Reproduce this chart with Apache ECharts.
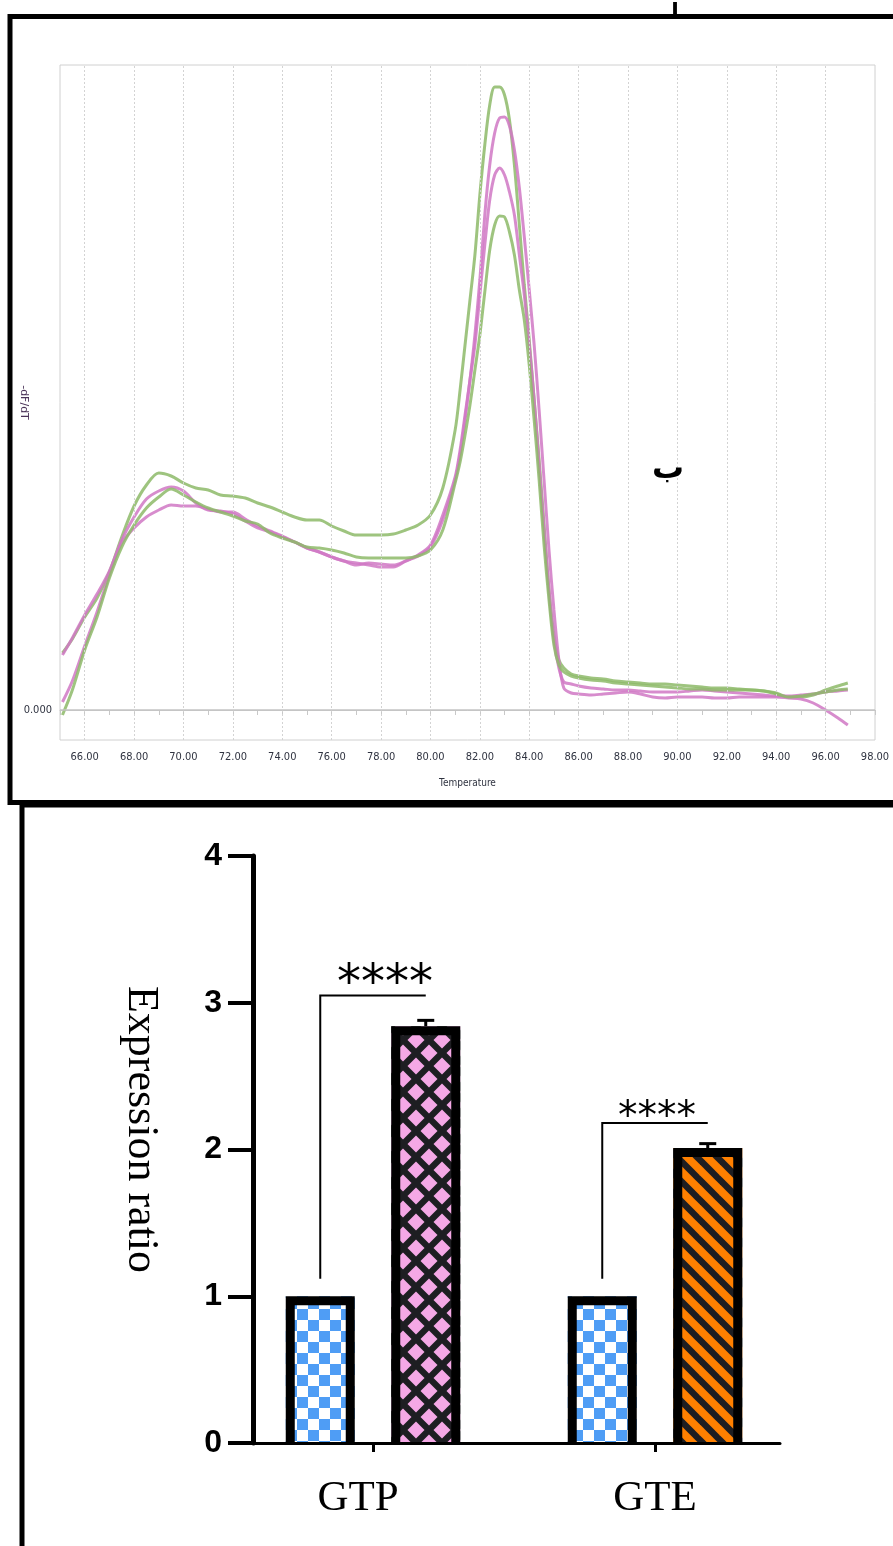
<!DOCTYPE html>
<html><head><meta charset="utf-8">
<script src="https://cdn.jsdelivr.net/npm/echarts@6/dist/echarts.min.js"></script>
<style>html,body{margin:0;padding:0;background:#fff}#c{width:893px;height:1546px}</style>
</head><body><div id="c"></div>
<script>
// ---------- melt curve data (top panel) ----------
const temps = [65.1,65.5,66,66.5,67,67.5,68,68.5,69,69.5,70,70.5,71,71.5,72,72.5,73,73.5,74,74.5,75,75.5,76,76.5,77,77.5,78,78.5,79,79.5,80,80.5,
81,81.2,81.4,81.6,81.8,82,82.2,82.4,82.6,82.8,83,83.2,83.4,83.6,83.8,84,84.2,84.4,84.6,84.8,85,85.2,85.4,
85.7,86,86.5,87,87.5,88,88.5,89,89.5,90,90.5,91,91.5,92,92.5,93,93.5,94,94.5,95,95.5,96,96.5,96.9];
const greenA = [0.57,0.71,0.93,1.12,1.38,1.73,2.04,2.25,2.37,2.34,2.27,2.22,2.20,2.15,2.14,2.12,2.07,2.03,1.98,1.93,1.90,1.90,1.84,1.79,1.75,1.75,1.75,1.76,1.80,1.85,1.95,2.22,
2.80,3.20,3.65,4.10,4.55,5.15,5.65,6.05,6.23,6.23,6.15,5.90,5.45,4.85,4.25,3.70,3.10,2.50,1.85,1.20,0.75,0.50,0.42,
0.36,0.34,0.32,0.31,0.29,0.28,0.27,0.26,0.26,0.25,0.24,0.23,0.22,0.22,0.21,0.20,0.19,0.17,0.13,0.13,0.15,0.20,0.24,0.27];
const pinkB = [0.55,0.72,0.95,1.16,1.39,1.70,1.93,2.11,2.19,2.23,2.19,2.07,2.00,1.99,1.96,1.89,1.82,1.78,1.73,1.68,1.62,1.58,1.53,1.49,1.47,1.45,1.43,1.43,1.49,1.55,1.65,1.95,
2.33,2.60,2.95,3.30,3.75,4.30,4.95,5.45,5.77,5.92,5.93,5.84,5.60,5.22,4.73,4.20,3.65,3.00,2.30,1.60,1.00,0.50,0.22,
0.17,0.16,0.15,0.16,0.17,0.18,0.16,0.13,0.12,0.13,0.13,0.13,0.12,0.12,0.13,0.13,0.13,0.13,0.12,0.11,0.07,0.00,-0.08,-0.15];
const pinkC = [0.08,0.29,0.64,0.98,1.35,1.67,1.82,1.93,2.00,2.05,2.04,2.04,2.01,1.98,1.98,1.91,1.84,1.79,1.74,1.68,1.62,1.58,1.53,1.49,1.45,1.47,1.46,1.45,1.49,1.54,1.63,1.90,
2.30,2.55,2.90,3.30,3.65,4.15,4.65,5.10,5.35,5.42,5.35,5.18,4.95,4.55,4.15,3.65,3.10,2.45,1.80,1.20,0.70,0.42,0.28,
0.26,0.24,0.22,0.21,0.20,0.20,0.19,0.18,0.18,0.18,0.19,0.20,0.19,0.18,0.17,0.16,0.15,0.14,0.14,0.15,0.16,0.18,0.19,0.20];
const greenD = [-0.05,0.20,0.60,0.93,1.32,1.63,1.85,2.02,2.13,2.21,2.15,2.08,2.02,1.98,1.94,1.89,1.86,1.77,1.72,1.68,1.63,1.62,1.60,1.57,1.53,1.52,1.52,1.52,1.52,1.54,1.60,1.80,
2.27,2.48,2.75,3.05,3.40,3.75,4.18,4.60,4.85,4.94,4.93,4.78,4.55,4.20,3.90,3.45,2.90,2.30,1.65,1.10,0.65,0.45,0.38,
0.34,0.32,0.30,0.29,0.27,0.26,0.25,0.24,0.23,0.22,0.21,0.21,0.20,0.20,0.20,0.20,0.19,0.16,0.13,0.14,0.16,0.18,0.20,0.21];
const gridTemps = [66,68,70,72,74,76,78,80,82,84,86,88,90,92,94,96];

// ---------- expression ratio data (bottom panel) ----------
const categories = ['GTP', 'GTE'];
const controlValues = [1.0, 1.0];
const treatmentValues = [2.84, 2.01];
const treatmentErrors = [0.04, 0.03];
const bracketBase = [1.12, 1.12];
const bracketTop = [3.05, 2.18];
const sigLabels = ['****', '****'];
// star label styling per bracket (font size, x/y nudge in px)
const starStyle = [{ size: 48, dx: 12, dy: -10 }, { size: 39, dx: 2, dy: -5 }];

// ---------- fill patterns ----------
function makeCanvas(w, h, draw) { const c = document.createElement('canvas'); c.width = w; c.height = h; draw(c.getContext('2d'), w, h); return c; }
const checker = makeCanvas(22, 22, (g) => {
  g.fillStyle = '#ffffff'; g.fillRect(0, 0, 22, 22);
  g.fillStyle = '#4f9df5'; g.fillRect(0, 0, 11, 11); g.fillRect(11, 11, 11, 11);
});
const diamonds = makeCanvas(26, 26, (g) => {
  g.fillStyle = '#1e1e22'; g.fillRect(0, 0, 26, 26);
  g.fillStyle = '#f5a8e6';
  const r = 8.5;
  [[0,0],[26,0],[0,26],[26,26],[13,13]].forEach(([x, y]) => {
    g.beginPath(); g.moveTo(x, y - r); g.lineTo(x + r, y); g.lineTo(x, y + r); g.lineTo(x - r, y); g.closePath(); g.fill();
  });
});
const stripes = makeCanvas(20, 20, (g) => {
  g.fillStyle = '#ff8000'; g.fillRect(0, 0, 20, 20);
  g.strokeStyle = '#1e1e22'; g.lineWidth = 6.5;
  for (let k = -1; k <= 1; k++) { g.beginPath(); g.moveTo(k * 20 - 5, -5); g.lineTo(k * 20 + 25, 25); g.stroke(); }
});
const pat = (img) => ({ image: img, repeat: 'repeat' });

const BAR_W = 69, BORDER = 9, HALF_SEP = 52.75;
function barRender(offset, fillPat, withErr) {
  return function (params, api) {
    const idx = api.value(0);
    const top = api.coord([idx, api.value(1)]);
    const base = api.coord([idx, 0]);
    const cx = top[0] + offset;
    const l = cx - BAR_W / 2, r = cx + BAR_W / 2, h = BORDER / 2;
    const children = [
      { type: 'rect', shape: { x: l, y: top[1], width: BAR_W, height: base[1] - top[1] }, style: { fill: fillPat } },
      { type: 'polyline', shape: { points: [[l + h, base[1]], [l + h, top[1] + h], [r - h, top[1] + h], [r - h, base[1]]] },
        style: { stroke: '#000', lineWidth: BORDER, fill: 'none', lineJoin: 'miter' } }
    ];
    if (withErr) {
      const e = api.coord([idx, api.value(1) + api.value(2)]);
      children.push({ type: 'line', shape: { x1: cx, y1: top[1], x2: cx, y2: e[1] }, style: { stroke: '#000', lineWidth: 3 } });
      children.push({ type: 'line', shape: { x1: cx - 8.5, y1: e[1], x2: cx + 8.5, y2: e[1] }, style: { stroke: '#000', lineWidth: 3 } });
    }
    return { type: 'group', children };
  };
}

function lineSeries(name, vals, color, extra) {
  return Object.assign({
    type: 'line', name, xAxisIndex: 0, yAxisIndex: 0,
    data: temps.map((t, i) => [t, vals[i]]),
    showSymbol: false, smooth: 0.3, silent: true,
    lineStyle: { color, width: 3, opacity: 0.85 }
  }, extra || {});
}

const GREEN = '#8dba68', PINK = '#d078c4';
const narrow = '"Liberation Sans Narrow", "DejaVu Sans Condensed", sans-serif';

const option = {
  animation: false,
  backgroundColor: '#ffffff',
  grid: [
    { left: 60, top: 65, width: 815, height: 675, show: true, borderColor: '#d0d0d0', borderWidth: 1, outerBoundsMode: 'none', containLabel: false },
    { left: 253, top: 856, width: 527, height: 587, outerBoundsMode: 'none', containLabel: false },
    { left: 232, top: 856, width: 564, height: 587, outerBoundsMode: 'none', containLabel: false }
  ],
  xAxis: [
    { gridIndex: 0, type: 'value', min: 65, max: 98, interval: 1,
      axisLine: { lineStyle: { color: '#c8c8c8' } },
      axisTick: { length: 5, lineStyle: { color: '#c8c8c8' } },
      axisLabel: { formatter: (v) => (v % 2 === 0 ? v.toFixed(2) : ''), fontFamily: narrow, fontSize: 11, color: '#2f3340', margin: 12 },
      splitLine: { show: false },
      name: 'Temperature', nameLocation: 'middle', nameGap: 38,
      nameTextStyle: { fontFamily: narrow, fontSize: 10, color: '#2f3340' } },
    { gridIndex: 1, type: 'value', min: 0, max: 1, z: 10,
      axisLine: { lineStyle: { color: '#000', width: 3 } }, axisTick: { show: false }, axisLabel: { show: false }, splitLine: { show: false } },
    { gridIndex: 2, type: 'category', data: categories,
      axisLine: { show: false },
      axisTick: { show: true, alignWithLabel: true, length: 9, lineStyle: { color: '#000', width: 3 } },
      axisLabel: { margin: 34, color: '#000',
        formatter: (v, i) => (i === 0 ? '{a|' + v + '}' : '{b|' + v + '}'),
        rich: { a: { fontFamily: '"Liberation Serif", serif', fontSize: 43, color: '#000', padding: [0, 30, 0, 0] },
                b: { fontFamily: '"Liberation Serif", serif', fontSize: 43, color: '#000' } } },
      splitLine: { show: false } }
  ],
  yAxis: [
    { gridIndex: 0, type: 'value', min: -0.3, max: 6.45, interval: 0.3,
      axisLine: { show: false }, axisTick: { show: false }, splitLine: { show: false },
      axisLabel: { formatter: (v) => (Math.abs(v) < 1e-6 ? '0.000' : ''), fontFamily: narrow, fontSize: 11, color: '#2f3340', margin: 8 },
      name: '-dF/dT', nameLocation: 'middle', nameRotate: -90, nameGap: 31, nameMoveOverlap: false,
      nameTextStyle: { fontFamily: '"DejaVu Sans", sans-serif', fontSize: 11, color: '#4a3358' } },
    { gridIndex: 1, type: 'value', min: 0, max: 4, interval: 1, z: 10,
      axisLine: { lineStyle: { color: '#000', width: 5 } },
      axisTick: { length: 25, lineStyle: { color: '#000', width: 4 } },
      axisLabel: { fontFamily: '"Liberation Sans", Arial, sans-serif', fontWeight: 'bold', fontSize: 32, color: '#000', margin: 31 },
      splitLine: { show: false },
      name: 'Expression ratio', nameLocation: 'middle', nameRotate: -90, nameGap: 90,
      nameTextStyle: { fontFamily: '"Liberation Serif", serif', fontSize: 44, color: '#000', padding: [0, 40, 0, 0] } },
    { gridIndex: 2, type: 'value', min: 0, max: 4, show: false }
  ],
  series: [
    lineSeries('green 1', greenA, GREEN, {
      markLine: { silent: true, symbol: 'none', label: { show: false },
        lineStyle: { type: [2, 2], color: '#d3d3d3', width: 1 },
        data: gridTemps.map((t) => ({ xAxis: t })).concat([{ yAxis: 0, lineStyle: { type: 'solid', color: '#c4c4c4', width: 1.5 } }]) } }),
    lineSeries('pink 1', pinkB, PINK),
    lineSeries('pink 2', pinkC, PINK),
    lineSeries('green 2', greenD, GREEN),
    { type: 'custom', name: 'control', xAxisIndex: 2, yAxisIndex: 2, silent: true,
      data: categories.map((c, i) => [i, controlValues[i]]),
      renderItem: barRender(-HALF_SEP, pat(checker), false) },
    { type: 'custom', name: 'treated GTP/GTE', xAxisIndex: 2, yAxisIndex: 2, silent: true,
      data: categories.map((c, i) => [i, treatmentValues[i], treatmentErrors[i]]),
      renderItem: function (params, api) {
        const fillPat = params.dataIndex === 0 ? pat(diamonds) : pat(stripes);
        return barRender(HALF_SEP, fillPat, true)(params, api);
      } },
    { type: 'custom', name: 'significance', xAxisIndex: 2, yAxisIndex: 2, silent: true,
      data: categories.map((c, i) => [i, bracketBase[i], bracketTop[i]]),
      renderItem: function (params, api) {
        const idx = api.value(0);
        const b = api.coord([idx, api.value(1)]);
        const t = api.coord([idx, api.value(2)]);
        const xl = b[0] - HALF_SEP, xr = b[0] + HALF_SEP;
        const st = starStyle[params.dataIndex];
        return { type: 'group', children: [
          { type: 'polyline', shape: { points: [[xl, b[1]], [xl, t[1]], [xr, t[1]]] }, style: { stroke: '#000', lineWidth: 2, fill: 'none' } },
          { type: 'text', x: (xl + xr) / 2 + st.dx, y: t[1] + st.dy,
            style: { text: sigLabels[params.dataIndex], font: st.size + 'px "DejaVu Sans", sans-serif', fill: '#000', align: 'center', verticalAlign: 'middle' } }
        ] };
      } }
  ],
  graphic: [
    { type: 'text', x: 675, y: 24, z: 1, style: { text: 'ا', font: 'bold 22px "DejaVu Sans"', fill: '#000', align: 'center', verticalAlign: 'bottom' } },
    { type: 'rect', z: 20, shape: { x: 10, y: 16.5, width: 900, height: 786 }, style: { stroke: '#000', lineWidth: 5, fill: 'none' } },
    { type: 'rect', z: 20, shape: { x: 22, y: 805, width: 900, height: 800 }, style: { stroke: '#000', lineWidth: 5, fill: 'none' } },
    { type: 'text', x: 668, y: 470, z: 20, style: { text: 'ب', font: 'bold 32px "DejaVu Sans"', fill: '#000', align: 'center', verticalAlign: 'middle' } }
  ]
};
const chart = echarts.init(document.getElementById('c'), null, { renderer: 'canvas', width: 893, height: 1546 });
chart.setOption(option);
</script>
</body></html>
